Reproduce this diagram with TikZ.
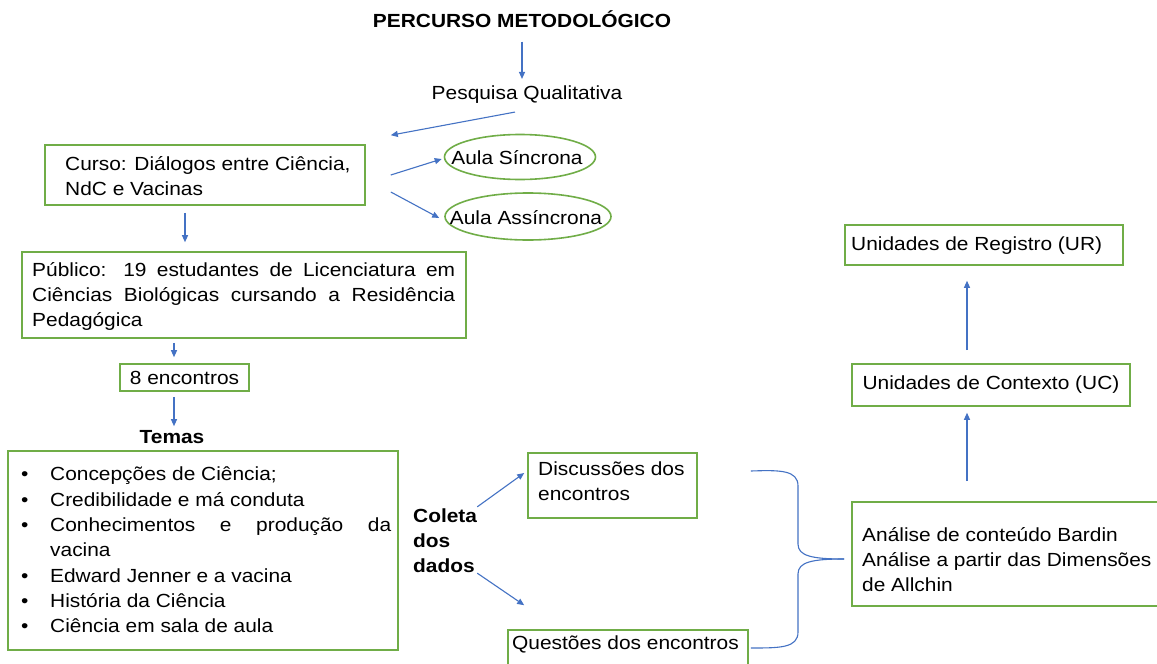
\documentclass[tikz,border=0pt]{standalone}
\usepackage{fontspec}
\setmainfont{Liberation Sans}[FakeStretch=1.1]
\usetikzlibrary{arrows.meta,shapes.geometric,calc}
\definecolor{boxgreen}{HTML}{70AD47}
\definecolor{linkblue}{HTML}{4472C4}
\begin{document}
\begin{tikzpicture}[x=1pt,y=-1pt,
  every node/.style={font=\fontsize{19}{25}\selectfont, text=black},
  box/.style={draw=boxgreen, line width=1.6pt, rectangle, inner sep=0pt},
  oval/.style={draw=boxgreen, line width=1.6pt, ellipse, inner sep=0pt},
  arr/.style={draw=linkblue, line width=1.1pt, -{Triangle[length=7pt,width=6pt]}},
  brace/.style={draw=linkblue, line width=1.1pt},
  txt/.style={inner sep=0pt, align=left},
  bold/.style={font=\fontsize{19}{25}\selectfont\bfseries}]
\clip (0,0) rectangle (1157,664);
\fill[white] (0,0) rectangle (1157,664);

% title and top
\node[bold, inner sep=0pt] (title) at (522,19) {PERCURSO METODOLÓGICO};
\node[txt] (pesq) at (527,95) {Pesquisa Qualitativa};

% course
\node[box, minimum width=320pt, minimum height=60pt] (curso) at (205,175) {};
\node[txt, anchor=west] (cursot) at (65,176) {Curso: Diálogos entre Ciência,\\NdC e Vacinas};
\node[oval, minimum width=151pt, minimum height=45pt] (sinc) at (520,157) {};
\node[txt] (sinct) at (517,158) {Aula Síncrona};
\node[oval, minimum width=166pt, minimum height=47pt] (asinc) at (528,216.5) {};
\node[txt] (asinct) at (526,217.5) {Aula Assíncrona};

% public
\node[box, minimum width=444pt, minimum height=86pt] (publico) at (244,295) {};
\node[txt, anchor=west] (publicot) at (32,296) {\makebox[423pt][s]{Público: 19 estudantes de Licenciatura em}\\\makebox[423pt][s]{Ciências Biológicas cursando a Residência}\\Pedagógica};

\node[box, minimum width=129pt, minimum height=27pt] (enc) at (184.5,377.5) {8 encontros};
\node[bold, inner sep=0pt] (temas) at (172,437) {Temas};

\node[box, minimum width=390pt, minimum height=199pt] (temasbox) at (203,550.5) {};
\node[txt, anchor=west, font=\fontsize{19}{25.3}\selectfont] (temast) at (21,550) {%
\makebox[29pt][l]{\textbullet}Concepções de Ciência;\\
\makebox[29pt][l]{\textbullet}Credibilidade e má conduta\\
\makebox[29pt][l]{\textbullet}\makebox[341pt][s]{Conhecimentos e produção da}\\
\hspace*{29pt}vacina\\
\makebox[29pt][l]{\textbullet}Edward Jenner e a vacina\\
\makebox[29pt][l]{\textbullet}História da Ciência\\
\makebox[29pt][l]{\textbullet}Ciência em sala de aula};

% data collection
\node[bold, txt, anchor=west] (coleta) at (413,541) {Coleta\\dos\\dados};
\node[box, minimum width=169pt, minimum height=65pt] (disc) at (612.5,485.5) {};
\node[txt, anchor=west] (disct) at (538,481) {Discussões dos\\encontros};
\node[box, minimum width=240pt, minimum height=50pt] (quest) at (628,655) {};
\node[txt, anchor=west] (questt) at (512,644) {Questões dos encontros};

% analysis
\node[box, minimum width=320pt, minimum height=104pt] (anal) at (1012,554) {};
\node[txt, anchor=west] (analt) at (862,560) {Análise de conteúdo Bardin\\Análise a partir das Dimensões\\de Allchin};
\node[box, minimum width=278pt, minimum height=42pt] (uc) at (991,385) {Unidades de Contexto (UC)};
\node[box, minimum width=278pt, minimum height=40pt] (ur) at (984,245) {};
\node[txt, anchor=west] (urt) at (851,246) {Unidades de Registro (UR)};

% arrows
\draw[arr, shorten <=14pt, shorten >=7pt] (title.south) -- (title.south |- pesq.north);
\draw[arr] ($(pesq.south)+(-12,8)$) -- ($(curso.north east)+(25,-9)$);
\draw[arr] ($(curso.east)+(25,0)$) -- ($(sinc.west)+(-2,2)$);
\draw[arr] ($(curso.east)+(25,17)$) -- ($(asinc.west)+(-5,1.5)$);
\draw[arr] ($(curso.south)+(-20,7)$) -- ($(publico.north)+(-59,-9)$);
\draw[arr] ($(publico.south)+(-70,4)$) -- ($(enc.north)+(-10.5,-6)$);
\draw[arr] ($(enc.south)+(-10.5,5)$) -- ($(temas.north)+(2,-4)$);
\draw[arr] ($(coleta.north east)+(0,-2)$) -- ($(disc.west)+(-3,-12.5)$);
\draw[arr] ($(coleta.south east)+(0,0)$) -- ($(quest.north west)+(17,-24)$);
\draw[arr] ($(anal.north)+(-45,-20)$) -- ($(uc.south)+(-24,6)$);
\draw[arr] ($(uc.north)+(-24,-13)$) -- ($(ur.south)+(-17,15)$);

% brace
\coordinate (bt) at ($(disc.east)+(53,-14.5)$);
\coordinate (bb) at ($(quest.east)+(2,-7)$);
\coordinate (bm) at ($(anal.west)+(-7,5)$);
\draw[brace] (bt) .. controls (780,470) and (798,470) .. (798,486) -- (798,544)
  .. controls (798,556) and (812,559) .. (bm);
\draw[brace] (bm) .. controls (812,559) and (798,562) .. (798,574) -- (798,632)
  .. controls (798,648) and (780,648) .. (bb);
\end{tikzpicture}
\end{document}
